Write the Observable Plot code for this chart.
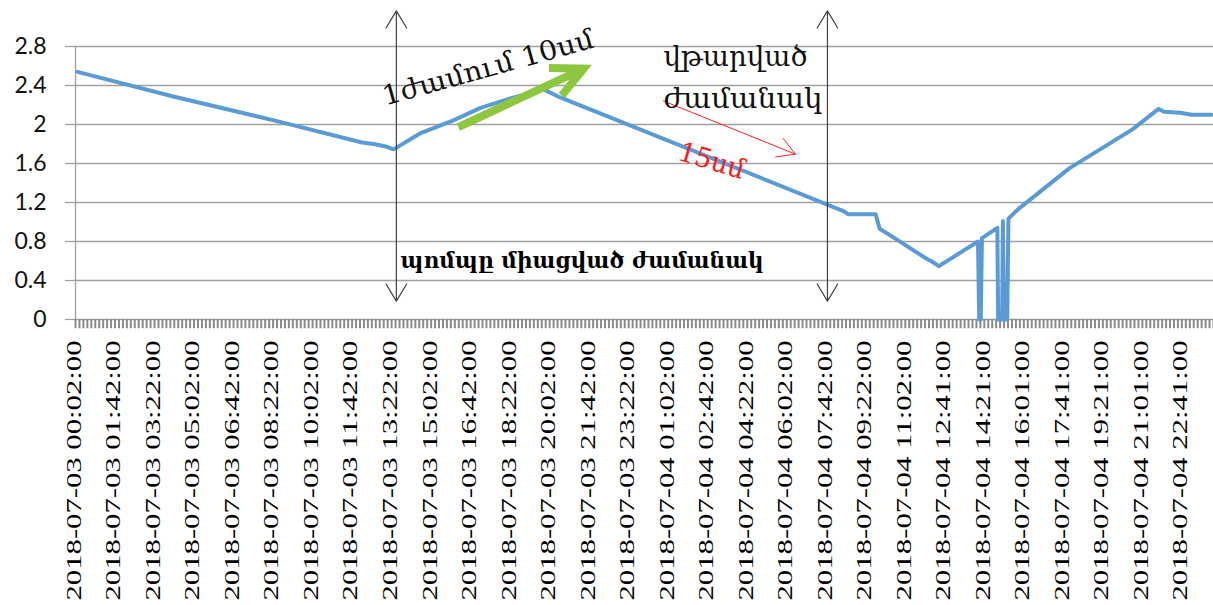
<!DOCTYPE html>
<html><head><meta charset="utf-8">
<script src="https://cdn.jsdelivr.net/npm/d3@7"></script>
<script src="https://cdn.jsdelivr.net/npm/@observablehq/plot@0.6"></script>
<style>html,body{margin:0;padding:0;background:#fff;overflow:hidden}</style>
</head><body><div id="chart"></div>
<script>
// ---- category axis (10-minute readings, 288 categories) ----
const categoryCount = 288;
const xTickIndex = [0,10,20,30,40,50,60,70,80,90,100,110,120,130,140,150,160,170,180,190,200,210,220,230,240,250,260,270,280];
const xTickLabels = [
  "2018-07-03 00:02:00","2018-07-03 01:42:00","2018-07-03 03:22:00","2018-07-03 05:02:00",
  "2018-07-03 06:42:00","2018-07-03 08:22:00","2018-07-03 10:02:00","2018-07-03 11:42:00",
  "2018-07-03 13:22:00","2018-07-03 15:02:00","2018-07-03 16:42:00","2018-07-03 18:22:00",
  "2018-07-03 20:02:00","2018-07-03 21:42:00","2018-07-03 23:22:00","2018-07-04 01:02:00",
  "2018-07-04 02:42:00","2018-07-04 04:22:00","2018-07-04 06:02:00","2018-07-04 07:42:00",
  "2018-07-04 09:22:00","2018-07-04 11:02:00","2018-07-04 12:41:00","2018-07-04 14:21:00",
  "2018-07-04 16:01:00","2018-07-04 17:41:00","2018-07-04 19:21:00","2018-07-04 21:01:00",
  "2018-07-04 22:41:00"];
const yTicks = [0,0.4,0.8,1.2,1.6,2,2.4,2.8];
const yTickLabels = ["0","0.4","0.8","1.2","1.6","2","2.4","2.8"];

// ---- water level series (category position, value) ----
const lineIndex = [0,24,51,72,75,78,80,87,95,102,109,118,122,194,195,202,203,206,215,216,218,
  227.9,228.2,228.6,228.9,232.8,233.0,234.0,234.2,234.5,235.3,235.6,238,251,267,273.6,275,279,282,287];
const lineValue = [2.54,2.29,2.03,1.815,1.80,1.775,1.745,1.915,2.04,2.17,2.26,2.36,2.28,1.11,1.08,1.08,0.93,0.855,0.62,0.60,0.547,
  0.80,0,0,0.835,0.94,0,0,1.01,0,0,1.035,1.13,1.55,1.95,2.16,2.13,2.12,2.10,2.10];

// ---- annotations ----
const vArrowIndex = [80.7, 189.8];
const vArrowTop = 3.165, vArrowBottom = 0.188, vArrowMid = 1.7;
const greenArrow = [96.4, 1.974, 128.1, 2.573];
const redArrow = [148.3, 2.241, 181.7, 1.696];
const noteText = ["1ժամում 10սմ","վթարված","ժամանակ","15սմ","պոմպը միացված ժամանակ"];
const noteIndex = [103.9, 148.3, 148.3, 160.5, 81.75];
const noteValue = [2.58, 2.686, 2.255, 1.625, 0.606];
const noteRotate = [-15.5, 0, 0, 17, 0];
const noteAnchor = ["middle","start","start","middle","start"];
const noteColor = ["#111","#111","#111","#ff1a1a","#000"];
const noteWeight = ["normal","normal","normal","normal","bold"];
const noteSize = [27, 27, 27, 27, 23];
const noteLength = [218, 144, 159, 68, 363];

const series = lineIndex.map((d,i)=>({i:d, v:lineValue[i]}));
const bounds = d3.range(categoryCount+1).map(k=>k-0.5);
const vArrows = vArrowIndex.flatMap(x=>[
  {x1:x,y1:vArrowMid,x2:x,y2:vArrowTop},{x1:x,y1:vArrowMid,x2:x,y2:vArrowBottom}]);
const notes = noteText.map((t,k)=>({t, x:noteIndex[k], y:noteValue[k]}));

const armFont = "'DejaVu Serif', serif";
const xFont = "'Liberation Serif', 'DejaVu Serif', serif";
const yFont = "Lato, 'Open Sans', sans-serif";
const marks = [
  Plot.gridY(yTicks, {stroke:"#a0a0a0", strokeOpacity:1, strokeWidth:1.3}),
  Plot.axisY(yTicks, {tickSize:10, tickPadding:19, stroke:"#a0a0a0", strokeWidth:1.3, fill:"#111",
    fontSize:23, label:null, tickFormat: d => yTickLabels[yTicks.indexOf(d)]}),
  Plot.ruleX([-0.5], {y1:0, y2:2.8, stroke:"#a0a0a0", strokeWidth:1.3}),
  Plot.ruleX(bounds, {y1:0, y2:-0.095, stroke:"#8a8a8a", strokeWidth:2}),
  Plot.axisX(xTickIndex, {tickSize:0, tickPadding:21, tickRotate:-90, fill:"#000",
    fontSize:20, label:null, dx:-3, tickFormat: d => xTickLabels[xTickIndex.indexOf(d)]}),
  Plot.line(series, {x:"i", y:"v", stroke:"#5b9bd5", strokeWidth:4, strokeLinejoin:"round", strokeLinecap:"round"}),
  Plot.arrow(vArrows, {x1:"x1", y1:"y1", x2:"x2", y2:"y2", stroke:"#404040", strokeWidth:1.2, headLength:25, headAngle:62}),
  Plot.arrow([greenArrow], {x1:d=>d[0], y1:d=>d[1], x2:d=>d[2], y2:d=>d[3], stroke:"#8dc63f", strokeWidth:8,
    headLength:6.5, headAngle:52, strokeLinejoin:"miter", strokeLinecap:"butt", strokeMiterlimit:4}),
  Plot.arrow([redArrow], {x1:d=>d[0], y1:d=>d[1], x2:d=>d[2], y2:d=>d[3], stroke:"#ff2020", strokeWidth:1, headLength:30, headAngle:60}),
];
notes.forEach((n,k)=>{
  marks.push(Plot.text([n], {x:"x", y:"y", text:"t", rotate:noteRotate[k], textAnchor:noteAnchor[k],
    lineAnchor:"middle", fill:noteColor[k], fontWeight:noteWeight[k], fontSize:noteSize[k]}));
});

const chart = Plot.plot({
  width:1213, height:605,
  marginLeft:75, marginRight:0, marginTop:46, marginBottom:286,
  x:{type:"linear", domain:[-0.5, categoryCount-0.5], axis:null},
  y:{domain:[0,2.8], axis:null},
  style:{background:"#fff", overflow:"visible", color:"#000"},
  marks
});
document.getElementById("chart").appendChild(chart);

// fonts and text lengths as in the reference
chart.querySelectorAll("text").forEach(el=>{
  const s = el.textContent;
  if (/^2018-/.test(s)) {
    el.style.fontFamily = xFont;
    el.setAttribute("textLength", 260); el.setAttribute("lengthAdjust","spacingAndGlyphs");
  } else if (yTickLabels.includes(s)) {
    el.style.fontFamily = yFont;
  }
  const k = noteText.indexOf(s);
  if (k >= 0) {
    el.style.fontFamily = armFont;
    el.setAttribute("textLength", noteLength[k]); el.setAttribute("lengthAdjust","spacingAndGlyphs");
  }
});
</script></body></html>
